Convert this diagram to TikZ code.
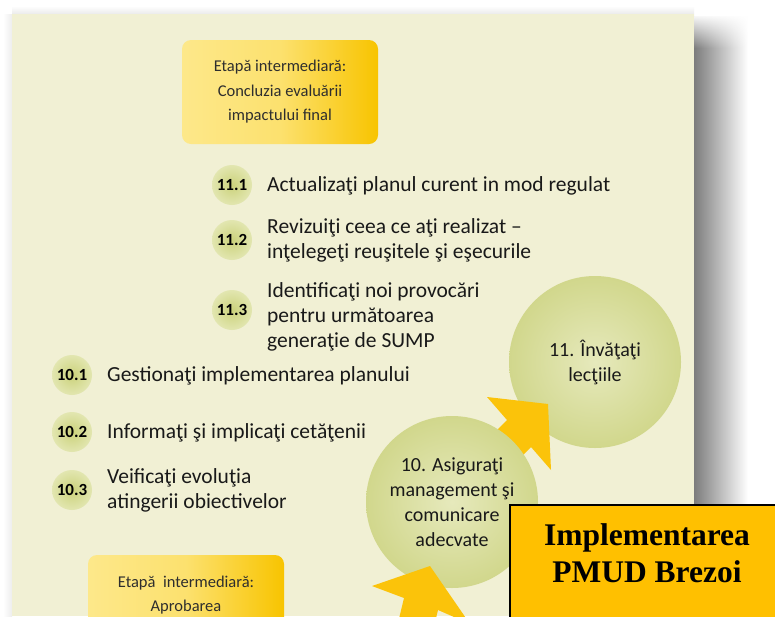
\documentclass[tikz,border=0pt]{standalone}
\usepackage{fontspec}
\setmainfont{Carlito}
\newfontfamily\titlefont{Liberation Serif}
\usetikzlibrary{calc}
\usetikzlibrary{positioning}
\usetikzlibrary{fadings}

\definecolor{panelCream}{HTML}{F1F0D4}
\definecolor{stageLight}{HTML}{FDE88A}
\definecolor{stageGold}{HTML}{F8C400}
\definecolor{dotGreen}{HTML}{CBD27B}
\definecolor{dotPale}{HTML}{E2E6B0}
\definecolor{phaseIn}{HTML}{E6E9BC}
\definecolor{phaseOut}{HTML}{D1D78C}
\definecolor{flowGold}{HTML}{FBC30A}
\definecolor{boxOrange}{HTML}{FFC000}
\definecolor{inkGray}{HTML}{2E2E2E}

\begin{document}
\begin{tikzpicture}[x=1pt,y=-1pt,
    stage/.style={rectangle, rounded corners=9pt, minimum width=196pt,
        left color=stageLight, right color=stageGold, middle color=stageLight!80!stageGold,
        align=center, text=inkGray, font=\fontsize{16.5}{24.5}\selectfont},
    stepdot/.style={circle, minimum size=40pt, inner sep=0pt, inner color=dotGreen,
        outer color=dotPale, text=black, font=\fontsize{17}{18}\selectfont\bfseries},
    itemtxt/.style={anchor=west, align=left, inner sep=0pt, text=black!90,
        font=\fontsize{21.5}{25}\selectfont},
    phase/.style={circle, minimum size=172pt, inner sep=0pt, inner color=phaseIn,
        outer color=phaseOut, align=center, text=black!90,
        font=\fontsize{20}{25}\selectfont},
    flow/.style={fill=flowGold}]

    \clip (0,0) rectangle (775,616);
    \fill[white] (0,0) rectangle (775,616);

    % shadow and panel
    \fill[left color=black!55, right color=white] (690,16) rectangle (748,616);
    \fill[white, path fading=south] (688,14) rectangle (750,48);
    \fill[top color=white, bottom color=black!10] (12,6) rectangle (694,16);
    \fill[left color=white, right color=black!7] (3,14) rectangle (12,616);
    \fill[panelCream] (12,14) rectangle (694,616);

    % stages
    \node[stage, minimum height=104pt] (final) at (280,92)
        {Etapă intermediară:\\Concluzia evaluării\\impactului final};
    \node[stage, minimum height=80pt] (approve) at (186,595)
        {Etapă\ \ intermediară:\\Aprobarea};

    % big circles and arrows
    \node[phase] (learn) at (595,362) {11. Învăţaţi\\lecţiile};
    \coordinate (t1) at (548,404);
    \fill[flow] (t1) -- (551,470) -- (531,447) -- (474,504) -- (450,477)
        -- (507,420) -- (487,397) -- cycle;
    \node[phase] (manage) at (452,502)
        {10. Asiguraţi\\management şi\\comunicare\\adecvate};
    \coordinate (t2) at (430,566);
    \fill[flow] (t2) -- (470,624) -- (438,610) -- (424,668) -- (390,656)
        -- (404,598) -- (372,586) -- cycle;

    % steps
    \foreach \n/\lbl/\xx/\yy in {s111/11.1/232/185, s112/11.2/232/240, s113/11.3/232/310,
        s101/10.1/72/375, s102/10.2/72/432, s103/10.3/72/490}{
        \node[stepdot] (\n) at (\xx,\yy) {\lbl};
    }

    \node[itemtxt] (t111) at (267,186) {Actualizaţi planul curent in mod regulat};
    \node[itemtxt] (t112) at (267,240) {Revizuiţi ceea ce aţi realizat –\\inţelegeţi reuşitele şi eşecurile};
    \node[itemtxt] (t113) at (267,317) {Identificaţi noi provocări\\pentru următoarea\\generaţie de SUMP};
    \node[itemtxt] (t101) at (107,376) {Gestionaţi implementarea planului};
    \node[itemtxt] (t102) at (107,433) {Informaţi şi implicaţi cetăţenii};
    \node[itemtxt] (t103) at (107,490) {Veificaţi evoluţia\\atingerii obiectivelor};

    % title box
    \filldraw[fill=boxOrange, draw=black, line width=2pt] (510,505) rectangle (790,630);
    \node[align=center, font=\titlefont\fontsize{31.5}{37}\selectfont\bfseries] (title) at (647,553)
        {Implementarea\\PMUD Brezoi};
\end{tikzpicture}
\end{document}
